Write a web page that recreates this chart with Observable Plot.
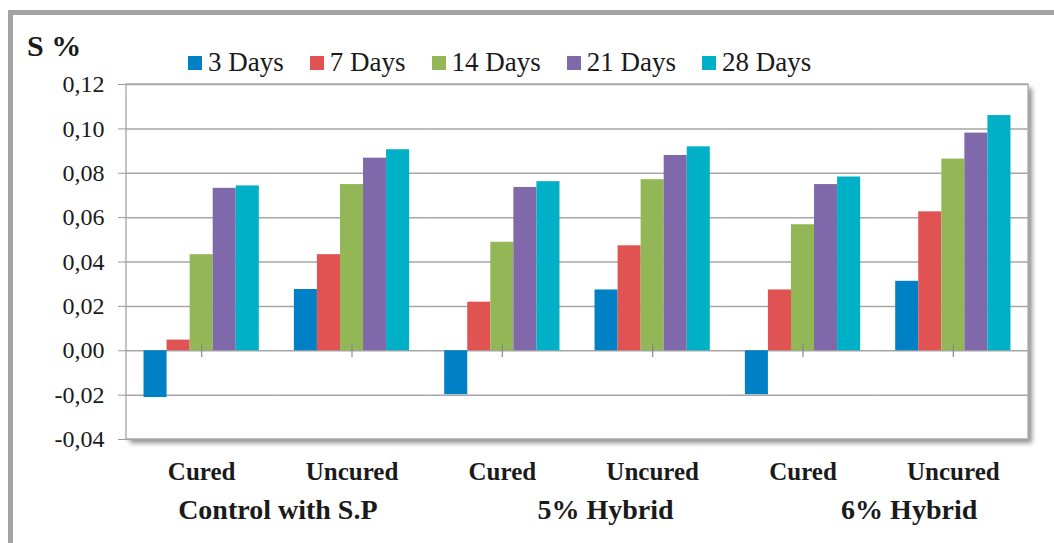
<!DOCTYPE html>
<html>
<head>
<meta charset="utf-8">
<script src="https://cdn.jsdelivr.net/npm/d3@7"></script>
<script src="https://cdn.jsdelivr.net/npm/@observablehq/plot@0.6"></script>
<style>
  body { margin: 0; background: #fff; }
  #wrap { position: relative; width: 1054px; height: 543px; overflow: hidden;
          font-family: "Liberation Serif", "Times New Roman", serif; color: #1a1a1a; }
  #chart { position: absolute; left: 0; top: 0; }
  #border { position: absolute; left: 8px; top: 10px; width: 1200px; height: 700px;
            border-left: 5px solid #a3a3a3; border-top: 5px solid #a3a3a3; pointer-events: none; }
  #title { position: absolute; left: 27px; top: 31px; font-size: 30px; font-weight: bold; line-height: 1; }
  #legend { position: absolute; left: 188px; top: 49px; display: flex; align-items: center;
            font-size: 27px; line-height: 1; }
  #legend .item { display: flex; align-items: center; margin-right: 26px; }
  #legend .sw { width: 14px; height: 14px; margin-right: 6px; }
  #chart g[aria-label="y-axis tick"] path, #chart g[aria-label^="y-axis"] line { stroke: #9a9a9a; }
</style>
</head>
<body>
<div id="wrap">
  <div id="chart"></div>
  <div id="border"></div>
  <div id="title">S %</div>
  <div id="legend"></div>
</div>
<script>
// ---- data ----
const groups = ["Control with S.P", "5% Hybrid", "6% Hybrid"];
const conditions = ["Cured", "Uncured"];
const days = ["3 Days", "7 Days", "14 Days", "21 Days", "28 Days"];
const dayColors = ["#0081c6", "#e15353", "#93b757", "#7f69aa", "#00b0c6"];
// values per series, in category order: Control Cured, Control Uncured, 5% Cured, 5% Uncured, 6% Cured, 6% Uncured
const days3  = [-0.0211, 0.0276, -0.0198, 0.0274, -0.0198, 0.0313];
const days7  = [ 0.0048, 0.0433,  0.0219, 0.0473,  0.0274, 0.0626];
const days14 = [ 0.0433, 0.0749,  0.0489, 0.0771,  0.0568, 0.0864];
const days21 = [ 0.0732, 0.0868,  0.0736, 0.0880,  0.0749, 0.0981];
const days28 = [ 0.0743, 0.0906,  0.0762, 0.0919,  0.0783, 0.1060];
const yTicks = [-0.04, -0.02, 0.00, 0.02, 0.04, 0.06, 0.08, 0.10, 0.12];

// ---- table ----
const series = [days3, days7, days14, days21, days28];
const cats = [];
groups.forEach(g => conditions.forEach(c => cats.push(g + "|" + c)));
const table = [];
cats.forEach((cat, ci) => days.forEach((d, di) => table.push({cat, day: d, value: series[di][ci]})));

// ---- legend ----
const legend = document.getElementById("legend");
days.forEach((d, i) => {
  const it = document.createElement("div");
  it.className = "item";
  const sw = document.createElement("div");
  sw.className = "sw";
  sw.style.background = dayColors[i];
  const t = document.createElement("span");
  t.textContent = d;
  it.appendChild(sw); it.appendChild(t);
  legend.appendChild(it);
});

// ---- chart ----
const groupLabelShift = {"Control with S.P": 1, "5% Hybrid": 28, "6% Hybrid": 31};
const chart = Plot.plot({
  width: 1054,
  height: 543,
  marginLeft: 126,
  marginRight: 26,
  marginTop: 84,
  marginBottom: 104,
  style: {fontFamily: "Liberation Serif, Times New Roman, serif", fontSize: "24px", color: "#1a1a1a", background: "transparent", overflow: "visible"},
  fx: {domain: cats, padding: 0, axis: null, round: false},
  x: {domain: days, paddingInner: 0, paddingOuter: 0.76, axis: null, round: false},
  y: {domain: [-0.04, 0.12], ticks: yTicks, tickFormat: d => d.toFixed(2).replace(".", ","), tickSize: 8, tickPadding: 14, label: null},
  color: {domain: days, range: dayColors},
  marks: [
    Plot.ruleY(yTicks, {stroke: "#a6a6a6", strokeWidth: 1.5}),
    Plot.barY(table, {fx: "cat", x: "day", y: "value", fill: "day"}),
    Plot.ruleX(cats, {fx: d => d, x: () => "14 Days", y1: -0.003, y2: 0.003, stroke: "#8a8a8a", strokeWidth: 1.2}),
    Plot.text(cats, {fx: d => d, text: d => d.split("|")[1], frameAnchor: "bottom", dy: 40, fontSize: 25, fontWeight: "bold"}),
    ...groups.map(g => Plot.text([g], {fx: d => d + "|Cured", text: d => d, frameAnchor: "bottom-right", textAnchor: "middle", dy: 79, dx: groupLabelShift[g], fontSize: 28, fontWeight: "bold"}))
  ]
});
document.getElementById("chart").appendChild(chart);

// plot-area frame with drop shadow, derived from the scales
const svg = d3.select(chart.tagName.toLowerCase() === "svg" ? chart : chart.querySelector("svg"));
const fxR = chart.scale("fx").range;
const yR = chart.scale("y").range;
const x0 = Math.min(...fxR), x1 = Math.max(...fxR);
const y0 = Math.min(...yR), y1 = Math.max(...yR);
const defs = svg.insert("defs", ":first-child");
defs.append("filter").attr("id", "shadowBlur").attr("x", "-5%").attr("y", "-5%").attr("width", "110%").attr("height", "110%")
  .append("feGaussianBlur").attr("stdDeviation", 2.5);
const bg = svg.insert("g", "defs + *");
bg.append("rect").attr("x", x0 + 4).attr("y", y0 + 4).attr("width", x1 - x0).attr("height", y1 - y0)
  .attr("fill", "#8f8f8f").attr("filter", "url(#shadowBlur)");
bg.append("rect").attr("x", x0).attr("y", y0).attr("width", x1 - x0).attr("height", y1 - y0)
  .attr("fill", "#fff").attr("stroke", "#b3b3b3").attr("stroke-width", 1.5);
</script>
</body>
</html>
